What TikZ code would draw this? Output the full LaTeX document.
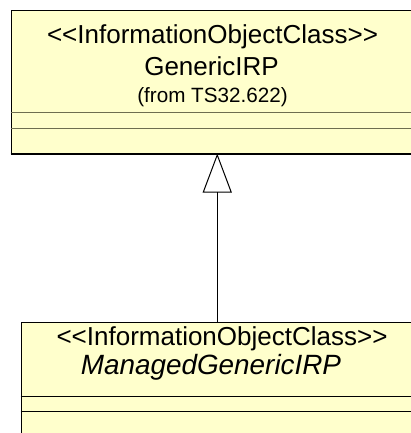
\documentclass[tikz,border=0pt]{standalone}
\usepackage{fontspec}
\setmainfont{Liberation Sans}
\usepackage{tikz}
\usetikzlibrary{positioning,calc,arrows.meta}

\definecolor{umlfill}{HTML}{FFFFCC}
\definecolor{umlline}{HTML}{6E6E50}

\begin{document}
\begin{tikzpicture}[
		classbox/.style={draw=black, line width=0.75pt, fill=umlfill, inner sep=0pt},
		stereo/.style={font=\fontsize{19.5pt}{22pt}\selectfont, inner sep=0pt},
		fromtxt/.style={font=\fontsize{15.5pt}{18pt}\selectfont, inner sep=0pt},
		inherit/.style={line width=0.75pt, -{Triangle[open, length=29.25pt, width=21.75pt, line width=0.75pt]}}
	]
		\useasboundingbox (0,0) rectangle (308.25pt,-324.75pt);
		\clip (0,0) rectangle (308.25pt,-324.75pt);
		% superclass
		\node [classbox, minimum width=302.25pt, minimum height=107.25pt] (generic) at (159.375pt,-61.125pt) {};
		\draw [line width=1.5pt] (generic.south west) -- (generic.south east);
		\draw [umlline, line width=0.9pt] ([yshift=-77.25pt]generic.north west) -- ([yshift=-77.25pt]generic.north east);
		\draw [umlline, line width=0.9pt] ([yshift=-89.25pt]generic.north west) -- ([yshift=-89.25pt]generic.north east);
		\node [stereo] (genstereo) at ([yshift=-20.25pt]generic.north) {<{}<InformationObjectClass>{}>};
		\node [stereo] (genname) at ([yshift=-42.75pt, xshift=-0.75pt]generic.north) {GenericIRP};
		\node [fromtxt] (genfrom) at ([yshift=-66pt]generic.north) {(from TS32.622)};
		% subclass
		\node [classbox, minimum width=301.5pt, minimum height=90pt, below=126pt of generic, xshift=7.125pt] (managed) {};
		\draw ([yshift=-56.25pt]managed.north west) -- ([yshift=-56.25pt]managed.north east);
		\draw ([yshift=-67.5pt]managed.north west) -- ([yshift=-67.5pt]managed.north east);
		\node [stereo] (manstereo) at ([yshift=-12.75pt]managed.north) {<{}<InformationObjectClass>{}>};
		\node [stereo, font=\fontsize{20.9pt}{23pt}\selectfont\itshape] (manname) at ([yshift=-34.5pt, xshift=-8.25pt]managed.north) {ManagedGenericIRP};
		% generalisation
		\coordinate (mid) at ($(generic.south)!0.5!(managed.north)$);
		\draw [inherit] (managed.north -| mid) -- (generic.south -| mid);
	\end{tikzpicture}
\end{document}
